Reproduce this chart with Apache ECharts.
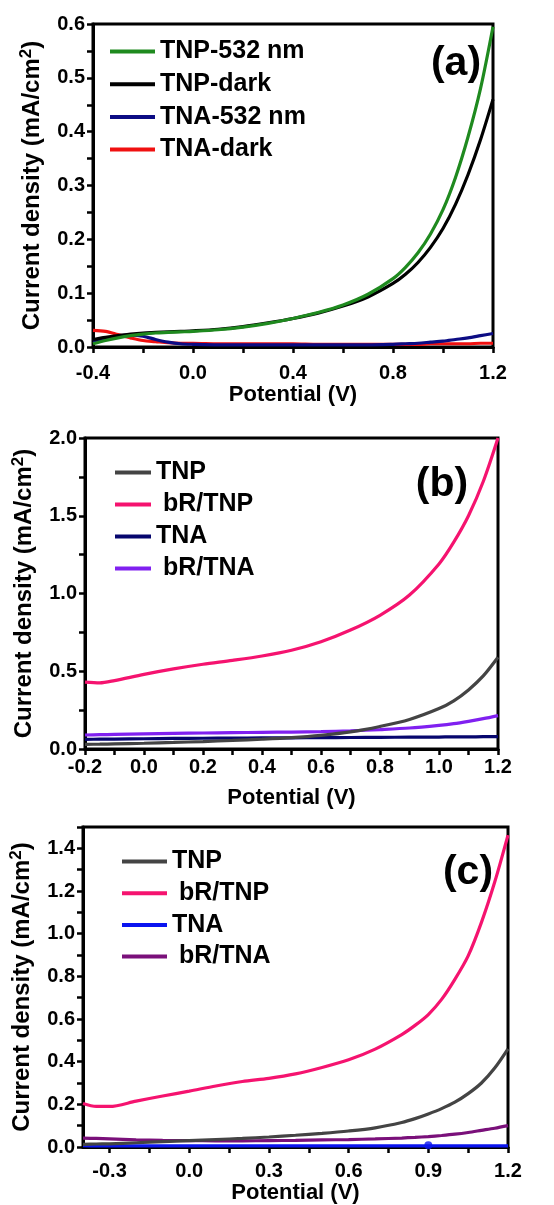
<!DOCTYPE html>
<html>
<head>
<meta charset="utf-8">
<script src="https://cdn.jsdelivr.net/npm/echarts@6/dist/echarts.min.js"></script>
<style>
html,body{margin:0;padding:0;background:#fff;}
#chart{width:554px;height:1205px;}
</style>
</head>
<body>
<div id="chart"></div>
<script>
// ---------- Panel (a) data ----------
const aX = [-0.4,-0.35,-0.3,-0.25,-0.2,-0.15,-0.1,-0.05,0,0.1,0.2,0.3,0.4,0.5,0.6,0.7,0.8,0.85,0.9,0.95,1.0,1.05,1.1,1.15,1.2];
const aTnp532 = [0.006,0.012,0.017,0.021,0.024,0.026,0.027,0.028,0.029,0.032,0.037,0.044,0.053,0.064,0.078,0.098,0.127,0.148,0.175,0.21,0.255,0.315,0.39,0.48,0.595];
const aTnpDark = [0.014,0.018,0.021,0.024,0.026,0.027,0.028,0.029,0.030,0.033,0.038,0.045,0.053,0.063,0.076,0.093,0.118,0.135,0.157,0.185,0.22,0.265,0.32,0.385,0.46];
const aTna532 = [0.011,0.016,0.020,0.022,0.020,0.014,0.009,0.006,0.005,0.004,0.004,0.004,0.004,0.004,0.004,0.004,0.005,0.006,0.007,0.009,0.011,0.014,0.017,0.021,0.025];
const aTnaDark = [0.031,0.029,0.023,0.017,0.012,0.010,0.008,0.007,0.007,0.006,0.006,0.006,0.006,0.005,0.005,0.005,0.005,0.005,0.005,0.006,0.006,0.006,0.006,0.007,0.007];

// ---------- Panel (b) data ----------
const bX = [-0.2,-0.15,-0.1,0,0.1,0.2,0.3,0.4,0.5,0.6,0.7,0.8,0.9,1.0,1.05,1.1,1.15,1.2];
const bTnp = [0.03,0.031,0.033,0.037,0.042,0.048,0.055,0.063,0.073,0.088,0.11,0.145,0.19,0.26,0.31,0.38,0.47,0.59];
const bBrTnp = [0.43,0.425,0.44,0.48,0.515,0.545,0.57,0.598,0.635,0.69,0.765,0.86,0.99,1.19,1.33,1.50,1.72,2.0];
const bTna = [0.062,0.063,0.064,0.066,0.068,0.069,0.07,0.071,0.072,0.073,0.074,0.075,0.076,0.077,0.078,0.078,0.079,0.08];
const bBrTna = [0.09,0.092,0.094,0.097,0.1,0.103,0.105,0.107,0.109,0.112,0.117,0.125,0.135,0.152,0.163,0.178,0.195,0.215];

// ---------- Panel (c) data ----------
const cX = [-0.4,-0.35,-0.3,-0.2,-0.1,0,0.1,0.2,0.3,0.4,0.5,0.6,0.7,0.8,0.85,0.9,0.95,1.0,1.05,1.1,1.15,1.2];
const cTnp = [0.012,0.014,0.015,0.02,0.025,0.03,0.035,0.04,0.047,0.055,0.064,0.075,0.09,0.115,0.133,0.155,0.18,0.21,0.25,0.30,0.37,0.46];
const cBrTnp = [0.204,0.19,0.19,0.215,0.239,0.262,0.286,0.307,0.322,0.343,0.373,0.409,0.459,0.527,0.57,0.621,0.692,0.786,0.896,1.053,1.242,1.462];
const cTna = [0.006,0.005,0.005,0.005,0.005,0.005,0.005,0.005,0.005,0.005,0.005,0.005,0.005,0.005,0.005,0.005,0.005,0.005,0.005,0.005,0.005,0.005];
const cBrTna = [0.042,0.04,0.038,0.034,0.031,0.03,0.029,0.029,0.03,0.031,0.033,0.035,0.038,0.042,0.045,0.049,0.054,0.06,0.068,0.078,0.088,0.10];
const cTnaDot = [[0.9, 0.008]];

// ---------- tick labels ----------
const aXLabels = [-0.4,0,0.4,0.8,1.2];
const aYLabels = [0,0.1,0.2,0.3,0.4,0.5,0.6];
const bXLabels = [-0.2,0,0.2,0.4,0.6,0.8,1.0,1.2];
const bYLabels = [0,0.5,1.0,1.5,2.0];
const cXTicks = [-0.3,-0.15,0,0.15,0.3,0.45,0.6,0.75,0.9,1.05,1.2];
const cXLabels = [-0.3,0,0.3,0.6,0.9,1.2];
const cYLabels = [0,0.2,0.4,0.6,0.8,1.0,1.2,1.4];

const FONT = 'Liberation Sans';

function pairs(xs, ys) { return xs.map((x, i) => [x, ys[i]]); }
function labelFmt(list) {
  return function (v) {
    for (const L of list) { if (Math.abs(L - v) < 1e-6) return Math.abs(L) < 1e-9 ? '0.0' : L.toFixed(1); }
    return '';
  };
}

const grids = [
  {left: 93, top: 24, width: 400, height: 323},
  {left: 85, top: 438, width: 413, height: 311},
  {left: 83, top: 827, width: 425, height: 320}
].map(g => Object.assign(g, {show: true, borderColor: '#000', borderWidth: 3, containLabel: false}));

function xAxisCfg(gi, min, max, interval, labels, gap, margin, customTicks) {
  const ax = {
    type: 'value', gridIndex: gi, min: min, max: max, interval: interval,
    name: 'Potential (V)', nameLocation: 'middle', nameGap: gap,
    nameTextStyle: {fontFamily: FONT, fontWeight: 'bold', fontSize: 22, color: '#000'},
    axisLine: {show: true, onZero: false, lineStyle: {color: '#000', width: 3}},
    axisTick: {show: true, inside: false, length: 6, lineStyle: {color: '#000', width: 2.5}},
    axisLabel: {show: true, margin: margin, fontFamily: FONT, fontWeight: 'bold', fontSize: 20, color: '#000', formatter: labelFmt(labels), hideOverlap: false},
    splitLine: {show: false}
  };
  if (customTicks) {
    ax.axisTick.customValues = customTicks;
    ax.axisLabel.customValues = labels;
  }
  return ax;
}
function yAxisCfg(gi, min, max, interval, labels, gap) {
  return {
    type: 'value', gridIndex: gi, min: min, max: max, interval: interval,
    name: 'Current density (mA/cm{sup|2})', nameLocation: 'middle', nameGap: gap, nameRotate: 90,
    nameTextStyle: {fontFamily: FONT, fontWeight: 'bold', fontSize: 24, color: '#000', lineHeight: 28,
      rich: {sup: {fontFamily: FONT, fontWeight: 'bold', fontSize: 17, color: '#000', verticalAlign: 'top', lineHeight: 14}}},
    axisLine: {show: true, onZero: false, lineStyle: {color: '#000', width: 3}},
    axisTick: {show: true, inside: false, length: 6, lineStyle: {color: '#000', width: 2.5}},
    axisLabel: {show: true, margin: 8, fontFamily: FONT, fontWeight: 'bold', fontSize: 20, color: '#000', formatter: labelFmt(labels)},
    splitLine: {show: false}
  };
}

function line(name, gi, xs, ys, color) {
  return {
    type: 'line', name: name, xAxisIndex: gi, yAxisIndex: gi,
    data: pairs(xs, ys), smooth: 0.3, symbol: 'none', clip: true,
    lineStyle: {color: color, width: 3.2}, itemStyle: {color: color}
  };
}

const legendBase = {orient: 'vertical', icon: 'rect', itemHeight: 4,
  textStyle: {fontFamily: FONT, fontWeight: 'bold', fontSize: 25, color: '#000', lineHeight: 24},
  selectedMode: false};

const option = {
  animation: false,
  backgroundColor: '#fff',
  grid: grids,
  xAxis: [
    xAxisCfg(0, -0.4, 1.2, 0.2, aXLabels, 37, 16),
    xAxisCfg(1, -0.2, 1.2, 0.1, bXLabels, 38, 8),
    xAxisCfg(2, -0.4, 1.2, 0.05, cXLabels, 35, 14, cXTicks)
  ],
  yAxis: [
    yAxisCfg(0, 0, 0.6, 0.05, aYLabels, 40),
    yAxisCfg(1, 0, 2.0, 0.25, bYLabels, 29),
    yAxisCfg(2, 0, 1.5, 0.1, cYLabels, 31)
  ],
  legend: [
    Object.assign({}, legendBase, {left: 105, top: 34, itemWidth: 45, itemGap: 7.7,
      data: ['TNP-532 nm', 'TNP-dark', 'TNA-532 nm', 'TNA-dark']}),
    Object.assign({}, legendBase, {left: 110, top: 455, itemWidth: 36, itemGap: 7,
      data: ['TNP', ' bR/TNP', 'TNA', ' bR/TNA']}),
    Object.assign({}, legendBase, {left: 117, top: 844, itemWidth: 45, itemGap: 6.7,
      data: ['TNP ', ' bR/TNP ', 'TNA ', ' bR/TNA ']})
  ],
  title: [
    {text: '(a)', left: 451, top: 59, textAlign: 'center', textVerticalAlign: 'middle',
      textStyle: {fontFamily: FONT, fontWeight: 'bold', fontSize: 41, color: '#000'}},
    {text: '(b)', left: 437, top: 480, textAlign: 'center', textVerticalAlign: 'middle',
      textStyle: {fontFamily: FONT, fontWeight: 'bold', fontSize: 41, color: '#000'}},
    {text: '(c)', left: 463, top: 868, textAlign: 'center', textVerticalAlign: 'middle',
      textStyle: {fontFamily: FONT, fontWeight: 'bold', fontSize: 41, color: '#000'}}
  ],
  series: [
    line('TNA-dark', 0, aX, aTnaDark, '#f01010'),
    line('TNA-532 nm', 0, aX, aTna532, '#0c0c84'),
    line('TNP-dark', 0, aX, aTnpDark, '#000000'),
    line('TNP-532 nm', 0, aX, aTnp532, '#1f8a1f'),

    line('TNA', 1, bX, bTna, '#06066e'),
    line(' bR/TNA', 1, bX, bBrTna, '#8020f0'),
    line('TNP', 1, bX, bTnp, '#444444'),
    line(' bR/TNP', 1, bX, bBrTnp, '#f5136f'),

    line('TNA ', 2, cX, cTna, '#0a14f0'),
    {type: 'scatter', xAxisIndex: 2, yAxisIndex: 2, data: cTnaDot, symbol: 'circle', symbolSize: 8,
      itemStyle: {color: '#0a14f0'}, silent: true},
    line(' bR/TNA ', 2, cX, cBrTna, '#7a107a'),
    line('TNP ', 2, cX, cTnp, '#444444'),
    line(' bR/TNP ', 2, cX, cBrTnp, '#f5136f')
  ]
};

const chart = echarts.init(document.getElementById('chart'), null, {renderer: 'canvas'});
chart.setOption(option);
</script>
</body>
</html>
